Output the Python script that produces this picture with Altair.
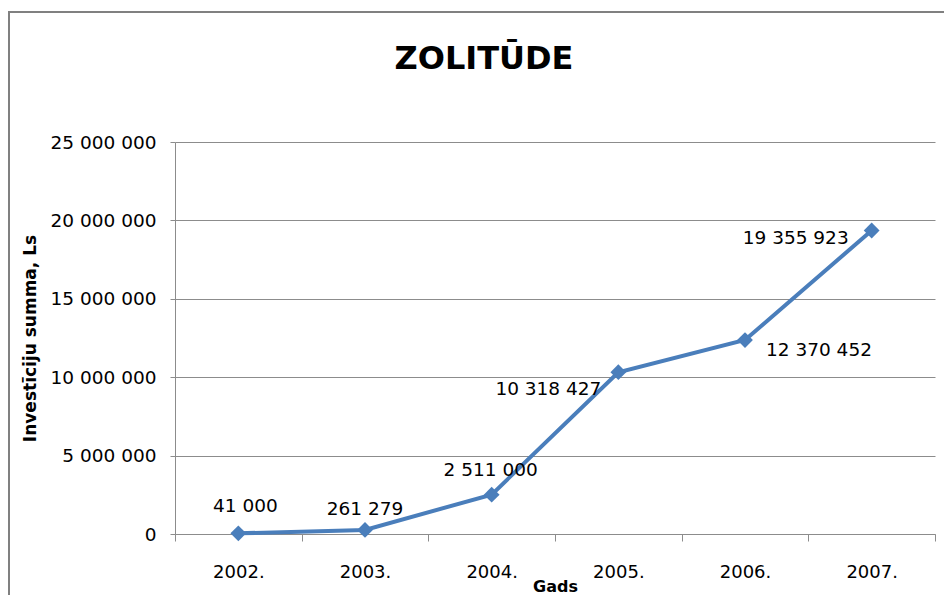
import altair as alt
import pandas as pd

years = ["2002.", "2003.", "2004.", "2005.", "2006.", "2007."]
values = [41000, 261279, 2511000, 10318427, 12370452, 19355923]

df = pd.DataFrame({"Gads": years, "Summa": values})

FONT = "DejaVu Sans"
BLUE = "#4A7EBB"
GRID = "#8C8C8C"

x_enc = alt.X(
    "Gads:O",
    sort=years,
    bandPosition=0.5,
    scale=alt.Scale(type="band", paddingInner=0, paddingOuter=0),
    axis=alt.Axis(
        title="Gads",
        labelAngle=0,
        tickBand="extent",
        tickSize=7,
        tickColor=GRID,
        domainColor=GRID,
        labelFontSize=18,
        labelPadding=22,
        labelColor="#000000",
        titleFontSize=16,
        titleFontWeight="bold",
        titlePadding=-3,
        titleColor="#000000",
        grid=False,
    ),
)

y_enc = alt.Y(
    "Summa:Q",
    scale=alt.Scale(domain=[0, 25000000]),
    axis=alt.Axis(
        title="Investīciju summa, Ls",
        values=[0, 5000000, 10000000, 15000000, 20000000, 25000000],
        labelExpr="replace(format(datum.value, ','), /,/g, ' ')",
        tickSize=5,
        tickColor=GRID,
        domainColor=GRID,
        gridColor=GRID,
        gridWidth=1,
        labelFontSize=18.5,
        labelPadding=14,
        labelColor="#000000",
        titleFontSize=17,
        titleFontWeight="bold",
        titlePadding=11,
        titleColor="#000000",
    ),
)

base = alt.Chart(df).encode(x=x_enc, y=y_enc)

line = base.mark_line(color=BLUE, strokeWidth=4)
pts = base.mark_point(shape="diamond", filled=True, size=250, color=BLUE, opacity=1)

lab_base = base.transform_calculate(
    lbl="replace(format(datum.Summa, ','), /,/g, ' ')"
)

def lab(yrs, **kw):
    return lab_base.transform_filter(
        alt.FieldOneOfPredicate(field="Gads", oneOf=yrs)
    ).mark_text(font=FONT, fontSize=18.5, color="#000000", **kw).encode(
        text="lbl:N"
    )

lab_2002 = lab(["2002."], align="center", dy=-27, dx=7)
lab_2003 = lab(["2003."], align="center", dy=-21, dx=0)
lab_2004 = lab(["2004."], align="center", dy=-25, dx=-1)
lab_2005 = lab(["2005."], align="right", dx=-17, dy=17)
lab_2006 = lab(["2006."], align="left", dx=21, dy=10)
lab_2007 = lab(["2007."], align="right", dx=-23, dy=8)

frame_left = alt.Chart(df).mark_rule(color="#808080", strokeWidth=2).encode(
    x=alt.value(-166), y=alt.value(-130), y2=alt.value(470)
)
frame_top = alt.Chart(df).mark_rule(color="#808080", strokeWidth=2).encode(
    x=alt.value(-167), x2=alt.value(780), y=alt.value(-130)
)

title_txt = alt.Chart(pd.DataFrame({"t": ["ZOLITŪDE"]})).mark_text(
    font=FONT, fontSize=32, fontWeight="bold", color="#000000",
    align="center", baseline="alphabetic"
).encode(text="t:N", x=alt.value(309), y=alt.value(-73))

chart = alt.layer(
    frame_left, frame_top, title_txt, line, pts,
    lab_2002, lab_2003, lab_2004, lab_2005, lab_2006, lab_2007
).properties(
    width=760,
    height=392,
    autosize=alt.AutoSizeParams(type="none"),
    padding={"left": 167, "top": 134, "right": 9, "bottom": 61},
).configure_view(stroke=None).configure_axis(
    labelFont=FONT, titleFont=FONT
)

chart.save("out.html", embed_options={"renderer": "svg", "actions": False})
